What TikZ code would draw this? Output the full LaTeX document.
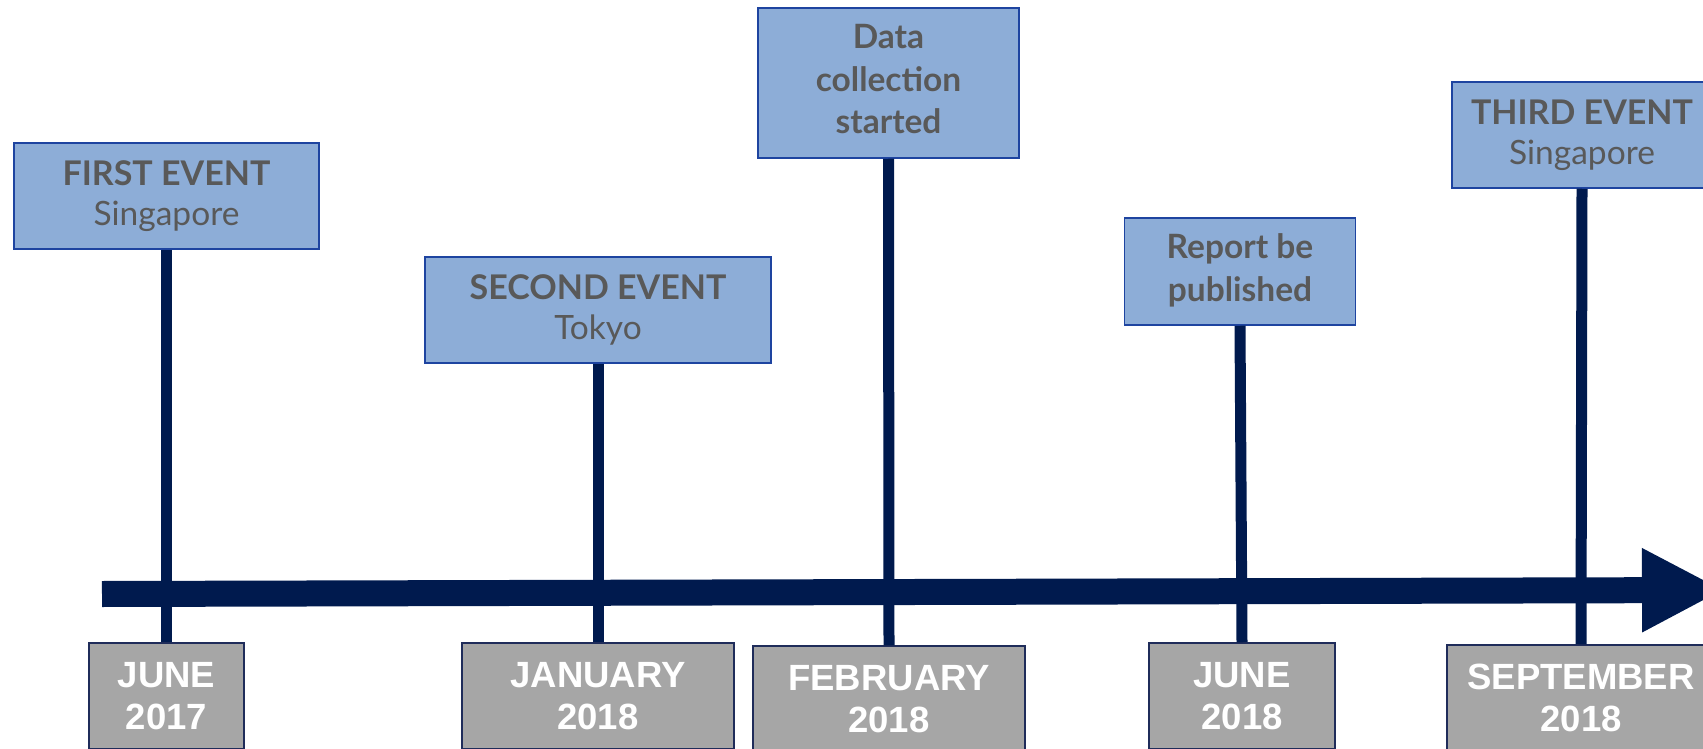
\documentclass[tikz,border=0pt]{standalone}
\usepackage{fontspec}
\usetikzlibrary{arrows.meta}
\newfontfamily\latofont{Lato}
\newfontfamily\arialfont{Liberation Sans}
\definecolor{boxfill}{HTML}{8DADD7}
\definecolor{boxline}{HTML}{1E44A0}
\definecolor{txtgray}{HTML}{595959}
\definecolor{datefill}{HTML}{A6A6A6}
\definecolor{dateline}{HTML}{1F2C5A}
\definecolor{navy}{HTML}{001A4E}
\tikzset{
  evbox/.style={draw=boxline, fill=boxfill, line width=1.5pt, inner sep=0pt,
    align=center, text=txtgray, minimum height=106pt,
    font=\latofont\fontsize{33.5}{40}\selectfont},
  datebox/.style={draw=dateline, fill=datefill, line width=1.5pt, inner sep=0pt,
    align=center, text=white, minimum height=106pt,
    font=\arialfont\bfseries\fontsize{36.5}{42}\selectfont},
  stem/.style={draw=navy, line width=11pt},
  timeline/.style={draw=navy, line width=26pt, -{Triangle[length=82pt,width=78pt]}},
}
\begin{document}
\begin{tikzpicture}[x=1pt,y=-1pt]
\useasboundingbox (0,0) rectangle (1703,749);
\clip (0,0) rectangle (1703,749);
% event boxes
\node[evbox, minimum width=305pt] (e1) at (166.5,196)
  {{\bfseries\fontsize{34}{40}\selectfont FIRST EVENT}\\Singapore};
\node[evbox, minimum width=346pt] (e2) at (598,310)
  {{\bfseries\fontsize{34}{40}\selectfont SECOND EVENT}\\Tokyo};
\node[evbox, minimum width=261pt, minimum height=150pt] (e3) at (888.5,83)
  {\renewcommand\arraystretch{1.0625}\begin{tabular}{@{}c@{}}\bfseries Data\\
   \bfseries collection\\
   \bfseries started\end{tabular}};
\node[evbox, minimum width=231pt, minimum height=107pt] (e4) at (1240,271.5)
  {\renewcommand\arraystretch{1.085}\begin{tabular}{@{}c@{}}\bfseries Report be\\
   \bfseries published\end{tabular}};
\node[evbox, minimum width=260pt] (e5) at (1582,135)
  {{\bfseries\fontsize{34}{40}\selectfont THIRD EVENT}\\Singapore};
% date boxes
\node[datebox, minimum width=155pt] (d1) at (166.5,696) {JUNE\\2017};
\node[datebox, minimum width=272pt] (d2) at (598,696) {JANUARY\\2018};
\node[datebox, minimum width=272pt] (d3) at (889,699) {FEBRUARY\\2018};
\node[datebox, minimum width=186pt] (d4) at (1242,696) {JUNE\\2018};
\node[datebox, minimum width=268pt] (d5) at (1581,698) {SEPTEMBER\\2018};
% stems
\draw[stem] (e1.south) -- (d1.north);
\draw[stem] (e2.south) -- (d2.north);
\draw[stem] (e3.south) -- (d3.north);
\draw[stem] (e4.south) -- (d4.north);
\draw[stem] (e5.south) -- (d5.north);
% time axis
\coordinate (ta) at (102,594);
\coordinate (tb) at (1724,590);
\draw[timeline] (ta) -- (tb);
\end{tikzpicture}
\end{document}
